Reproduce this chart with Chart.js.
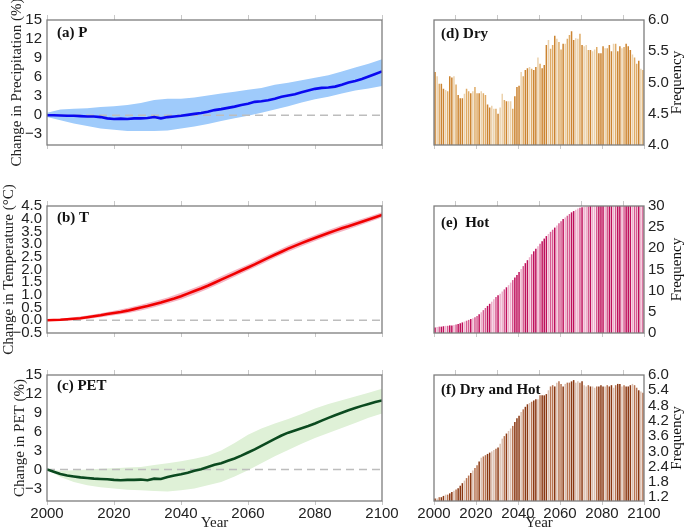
<!DOCTYPE html>
<html>
<head>
<meta charset="utf-8">
<script src="https://cdn.jsdelivr.net/npm/chart.js@4.4.1/dist/chart.umd.min.js"></script>
<style>
html, body { margin: 0; padding: 0; background: #fff; overflow: hidden; }
#wrap { position: relative; width: 685px; height: 529px; overflow: hidden; }
canvas { position: absolute; }
</style>
</head>
<body>
<div id="wrap">
  <canvas id="cP" width="400" height="175" style="left:0;top:0"></canvas>
  <canvas id="cT" width="400" height="195" style="left:0;top:165px"></canvas>
  <canvas id="cPET" width="400" height="189" style="left:0;top:345px"></canvas>
  <canvas id="cDry" width="275" height="175" style="left:410px;top:0"></canvas>
  <canvas id="cHot" width="275" height="195" style="left:410px;top:165px"></canvas>
  <canvas id="cDH" width="275" height="189" style="left:410px;top:345px"></canvas>
</div>
<script>
// years
const lineYears = [];
for (let y = 2000; y <= 2100; y += 2) lineYears.push(y);
const bandYears = [];
for (let y = 2000; y <= 2100; y += 4) bandYears.push(y);
const barYears = [];
for (let y = 2001; y <= 2100; y++) barYears.push(y);
const xTicks = [2000, 2020, 2040, 2060, 2080, 2100];

// (a) precipitation change, %
const pMean = [0, 0, -0.05, -0.1, -0.1, -0.15, -0.2, -0.2, -0.3, -0.5, -0.6,
  -0.55, -0.6, -0.5, -0.5, -0.45, -0.3, -0.5, -0.3, -0.2, -0.1,
  0.05, 0.2, 0.35, 0.55, 0.8, 0.95, 1.15, 1.35, 1.6, 1.8,
  2.1, 2.2, 2.35, 2.6, 2.9, 3.1, 3.3, 3.6, 3.9, 4.15,
  4.3, 4.35, 4.5, 4.8, 5.15, 5.4, 5.7, 6.1, 6.5, 6.9];
const pHigh = [0.4, 0.9, 1.0, 1.1, 1.3, 1.4, 1.6, 1.9, 2.4, 2.6, 2.6, 2.8, 3.1,
  3.4, 3.7, 4.0, 4.3, 4.8, 5.1, 5.5, 5.9, 6.3, 6.9, 7.5, 8.1, 8.8];
const pLow = [-0.3, -0.8, -1.3, -1.7, -2.1, -2.3, -2.5, -2.5, -2.5, -2.4, -2.1, -1.8, -1.4,
  -0.9, -0.5, -0.1, 0.4, 0.9, 1.4, 2.0, 2.5, 2.9, 3.4, 3.9, 4.2, 4.6];
const pTicks = [-3, 0, 3, 6, 9, 12, 15];

// (b) temperature change, degC
const tMean = [0, 0.01, 0.02, 0.04, 0.06, 0.08, 0.12, 0.16, 0.2, 0.25, 0.29,
  0.33, 0.38, 0.44, 0.5, 0.56, 0.63, 0.7, 0.78, 0.86, 0.95,
  1.05, 1.15, 1.25, 1.36, 1.48, 1.6, 1.72, 1.84, 1.96, 2.08,
  2.2, 2.33, 2.46, 2.58, 2.7, 2.82, 2.93, 3.04, 3.14, 3.24,
  3.34, 3.44, 3.53, 3.62, 3.7, 3.79, 3.88, 3.97, 4.06, 4.15];
const tHigh = [0.02, 0.06, 0.12, 0.19, 0.28, 0.38, 0.48, 0.61, 0.75, 0.9, 1.08, 1.28, 1.49,
  1.73, 1.97, 2.2, 2.45, 2.7, 2.94, 3.16, 3.36, 3.56, 3.74, 3.91, 4.08, 4.25];
const tLow = [-0.02, -0.02, 0.0, 0.05, 0.12, 0.2, 0.28, 0.39, 0.51, 0.66, 0.82, 1.02, 1.23,
  1.47, 1.71, 1.96, 2.21, 2.46, 2.7, 2.92, 3.12, 3.32, 3.5, 3.67, 3.86, 4.05];
const tTicks = [-0.5, 0, 0.5, 1, 1.5, 2, 2.5, 3, 3.5, 4, 4.5];

// (c) PET change, %
const petMean = [0, -0.35, -0.7, -0.95, -1.1, -1.25, -1.35, -1.45, -1.5, -1.55, -1.65,
  -1.7, -1.65, -1.65, -1.6, -1.7, -1.45, -1.5, -1.2, -0.95, -0.75,
  -0.5, -0.2, 0.05, 0.4, 0.75, 1.0, 1.4, 1.75, 2.2, 2.7,
  3.2, 3.75, 4.3, 4.85, 5.4, 5.85, 6.2, 6.55, 6.9, 7.3,
  7.75, 8.2, 8.6, 9.0, 9.4, 9.75, 10.1, 10.4, 10.7, 10.95];
const petHigh = [0, -0.2, -0.1, 0, 0.1, 0.2, 0.3, 0.4, 0.7, 1.0, 1.3, 1.7, 2.2,
  3.0, 4.2, 5.5, 6.5, 7.3, 8.0, 8.8, 9.7, 10.4, 11.0, 11.6, 12.2, 12.8];
const petLow = [0, -1.2, -2.0, -2.5, -2.8, -3.0, -3.2, -3.3, -3.4, -3.5, -3.3, -3.0, -2.5,
  -2.0, -1.1, -0.1, 1.0, 2.1, 3.1, 4.1, 5.0, 5.8, 6.6, 7.4, 8.2, 8.9];
const petTicks = [-3, 0, 3, 6, 9, 12, 15];

// (d) dry frequency
const dryFreq = [5.17, 5.1, 4.98, 4.98, 4.9, 4.88, 4.86, 5.1, 5.08, 5.1,
  4.97, 4.8, 4.75, 4.75, 4.82, 4.9, 4.86, 4.83, 4.86, 4.93,
  4.83, 4.83, 4.86, 4.83, 4.8, 4.65, 4.6, 4.63, 4.58, 4.58,
  4.5, 4.6, 4.82, 4.72, 4.7, 4.7, 4.7, 4.58, 4.78, 4.93,
  4.95, 5.17, 5.1, 5.2, 5.23, 5.25, 5.22, 5.2, 5.25, 5.4,
  5.3, 5.23, 5.28, 5.6, 5.68, 5.54, 5.6, 5.75, 5.7, 5.65,
  5.53, 5.62, 5.62, 5.7, 5.76, 5.82, 5.68, 5.71, 5.7, 5.78,
  5.6, 5.58, 5.6, 5.52, 5.52, 5.5, 5.53, 5.57, 5.47, 5.47,
  5.58, 5.55, 5.55, 5.6, 5.5, 5.62, 5.62, 5.5, 5.58, 5.55,
  5.57, 5.62, 5.58, 5.52, 5.45, 5.4, 5.3, 5.35, 5.22, 5.2];
const dryTicks = [4.0, 4.5, 5.0, 5.5, 6.0];

// (e) hot frequency
const hotFreq = [1.3, 1.4, 1.5, 1.5, 1.6, 1.7, 1.7, 1.8, 1.8, 1.9,
  2.0, 2.1, 2.3, 2.5, 2.7, 2.9, 3.1, 3.3, 3.5, 3.7,
  4.0, 4.4, 4.9, 5.4, 5.9, 6.4, 6.9, 7.4, 8.0, 8.5,
  8.9, 9.3, 9.8, 10.3, 10.8, 11.3, 11.9, 12.5, 13.1, 13.7,
  14.4, 15.1, 15.8, 16.5, 17.2, 17.9, 18.6, 19.3, 19.9, 20.5,
  21.1, 21.7, 22.3, 22.9, 23.4, 23.9, 24.4, 24.9, 25.4, 25.9,
  26.4, 26.9, 27.3, 27.7, 28.1, 28.5, 28.8, 29.1, 29.4, 29.6,
  29.7, 29.8, 29.9, 29.9, 30, 30, 30, 30, 30, 30,
  30, 30, 30, 30, 30, 30, 30, 30, 30, 30,
  30, 30, 30, 30, 30, 30, 30, 30, 30, 30];
const hotTicks = [0, 5, 10, 15, 20, 25, 30];

// (f) dry and hot frequency
const dryHotFreq = [1.15, 1.15, 1.2, 1.2, 1.25, 1.3, 1.3, 1.35, 1.4, 1.45,
  1.5, 1.55, 1.65, 1.75, 1.85, 1.95, 2.05, 2.15, 2.25, 2.35,
  2.45, 2.6, 2.75, 2.8, 2.85, 2.9, 2.95, 3.0, 3.05, 3.1,
  3.15, 3.3, 3.5, 3.6, 3.7, 3.8, 3.9, 4.0, 4.15, 4.3,
  4.4, 4.55, 4.65, 4.75, 4.85, 4.9, 4.95, 5.0, 5.05, 5.05,
  5.2, 5.2, 5.2, 5.25, 5.4, 5.55, 5.6, 5.55, 5.7, 5.75,
  5.65, 5.55, 5.65, 5.7, 5.7, 5.75, 5.8, 5.7, 5.75, 5.7,
  5.75, 5.6, 5.55, 5.6, 5.55, 5.55, 5.5, 5.55, 5.55, 5.6,
  5.55, 5.55, 5.6, 5.55, 5.6, 5.5, 5.6, 5.65, 5.65, 5.55,
  5.6, 5.55, 5.55, 5.6, 5.65, 5.6, 5.5, 5.4, 5.35, 5.3];
const dryHotTicks = [1.2, 1.8, 2.4, 3.0, 3.6, 4.2, 4.8, 5.4, 6.0];

const SANS = '"Liberation Sans", Arial, sans-serif';
const SERIF = '"Liberation Serif", "Times New Roman", serif';
Chart.defaults.font.family = SANS;
Chart.defaults.color = '#222';

const minus = s => String(s).replace('-', '\u2212');

// box, zero line, panel label, right title
const panelPlugin = {
  id: 'panel',
  beforeDatasetDraw(chart, args, opts) {
    if (opts.zero && args.index === 0) {
      const a = chart.chartArea, ctx = chart.ctx;
      const y0 = chart.scales.y.getPixelForValue(0);
      ctx.save();
      ctx.strokeStyle = '#bdbdbd';
      ctx.lineWidth = 1.5;
      ctx.setLineDash([8, 5]);
      ctx.beginPath();
      ctx.moveTo(a.left, y0);
      ctx.lineTo(a.right, y0);
      ctx.stroke();
      ctx.restore();
    }
  },
  afterDraw(chart, args, opts) {
    const a = chart.chartArea, ctx = chart.ctx;
    ctx.save();
    ctx.strokeStyle = '#7d7d7d';
    ctx.lineWidth = 1.3;
    ctx.strokeRect(a.left, a.top, a.right - a.left, a.bottom - a.top);
    ctx.fillStyle = '#111';
    ctx.font = 'bold 15px ' + SERIF;
    ctx.textBaseline = 'alphabetic';
    ctx.textAlign = 'left';
    ctx.fillText(opts.label, a.left + opts.lx, a.top + opts.ly);
    if (opts.rightTitle) {
      ctx.font = '15px ' + SERIF;
      ctx.textAlign = 'center';
      ctx.textBaseline = 'middle';
      ctx.translate(chart.width - 8, (a.top + a.bottom) / 2);
      ctx.rotate(-Math.PI / 2);
      ctx.fillText(opts.rightTitle, 0, 0);
    }
    ctx.restore();
  }
};

function xScales(showLabels, h) {
  return {
    x: {
      type: 'linear', min: 2000, max: 2100, offset: false,
      afterBuildTicks: s => { s.ticks = xTicks.map(v => ({ value: v })); },
      afterFit: s => { s.height = h; },
      grid: { drawOnChartArea: false, tickLength: 4, color: '#c8c8c8', offset: false },
      border: { display: false },
      ticks: { display: showLabels, padding: 0, maxRotation: 0, autoSkip: false,
        color: '#222', font: { family: SANS, size: 15 }, callback: v => String(v) },
      title: { display: showLabels, text: 'Year', color: '#222',
        font: { family: SERIF, size: 15 }, padding: { top: 0, bottom: 2 } }
    },
    x2: {
      type: 'linear', position: 'top', min: 2000, max: 2100, offset: false,
      afterBuildTicks: s => { s.ticks = xTicks.map(v => ({ value: v })); },
      afterFit: s => { s.height = 5; },
      grid: { drawOnChartArea: false, tickLength: 5, color: '#c8c8c8' },
      border: { display: false },
      ticks: { display: false }
    }
  };
}

function linePanel(id, o) {
  new Chart(document.getElementById(id), {
    type: 'line',
    data: {
      datasets: [
        { data: o.mean.map((v, i) => ({ x: lineYears[i], y: v })),
          borderColor: o.lineColor, borderWidth: 2.6, pointRadius: 0, fill: false },
        { data: o.low.map((v, i) => ({ x: bandYears[i], y: v })),
          borderColor: 'rgba(0,0,0,0)', backgroundColor: o.bandColor, pointRadius: 0, fill: '+1' },
        { data: o.high.map((v, i) => ({ x: bandYears[i], y: v })),
          borderColor: 'rgba(0,0,0,0)', pointRadius: 0, fill: false }
      ]
    },
    plugins: [panelPlugin],
    options: {
      responsive: false, animation: false, devicePixelRatio: 1,
      layout: { padding: { left: 0, right: 18, top: o.padTop, bottom: 0 } },
      plugins: {
        legend: { display: false }, tooltip: { enabled: false },
        panel: { label: o.label, lx: 10, ly: o.ly, zero: true }
      },
      scales: Object.assign(xScales(o.showX, o.xh), {
        y: {
          min: o.min, max: o.max,
          afterBuildTicks: s => { s.ticks = o.ticks.map(v => ({ value: v })); },
          afterFit: s => { s.width = 47; },
          grid: { display: false, drawTicks: false },
          border: { display: false },
          ticks: { autoSkip: false, padding: 5, color: '#222', font: { family: SANS, size: 15 },
            callback: v => minus(o.fmt(v)) },
          title: { display: true, text: o.title, color: '#222',
            font: { family: SERIF, size: 15 }, padding: { top: o.titlePad, bottom: 0 } }
        }
      })
    }
  });
}

function shade(palette, i) {
  const k = (i * 7 + (i >> 2) * 3) % 10;
  return k < 4 ? palette[0] : (k < 7 ? palette[1] : palette[2]);
}

function barPanel(id, o) {
  new Chart(document.getElementById(id), {
    type: 'bar',
    data: {
      datasets: [{
        data: o.values.map((v, i) => ({ x: barYears[i] - 0.5, y: v })),
        backgroundColor: o.values.map((v, i) => shade(o.palette, i)),
        borderWidth: 0, categoryPercentage: 1, barPercentage: 0.72
      }]
    },
    plugins: [panelPlugin],
    options: {
      responsive: false, animation: false, devicePixelRatio: 1,
      layout: { padding: { left: 24, right: 0, top: o.padTop, bottom: 0 } },
      plugins: {
        legend: { display: false }, tooltip: { enabled: false },
        panel: { label: o.label, lx: 7, ly: o.ly, rightTitle: 'Frequency' }
      },
      scales: Object.assign(xScales(o.showX, o.xh), {
        y: {
          position: 'right', min: o.min, max: o.max,
          afterBuildTicks: s => { s.ticks = o.ticks.map(v => ({ value: v })); },
          afterFit: s => { s.width = 41; },
          grid: { display: false, drawTicks: false },
          border: { display: false },
          ticks: { autoSkip: false, padding: 4, color: '#222', font: { family: SANS, size: 15 },
            callback: v => o.fmt(v) }
        }
      })
    }
  });
}

linePanel('cP', { mean: pMean, low: pLow, high: pHigh, ticks: pTicks, min: -4.7, max: 15,
  lineColor: '#0a0af0', bandColor: '#9fcbfb', label: '(a) P', ly: 17,
  title: 'Change in Precipitation (%)', titlePad: 8, padTop: 15, xh: 30, showX: false,
  fmt: v => v.toFixed(0) });
linePanel('cT', { mean: tMean, low: tLow, high: tHigh, ticks: tTicks, min: -0.5, max: 4.5,
  lineColor: '#f00000', bandColor: '#f5b5c3', label: '(b) T', ly: 16,
  title: 'Change in Temperature (\u00B0C)', titlePad: 0, padTop: 36, xh: 27, showX: false,
  fmt: v => v.toFixed(1) });
linePanel('cPET', { mean: petMean, low: petLow, high: petHigh, ticks: petTicks, min: -5, max: 15,
  lineColor: '#0b4a1f', bandColor: '#dff1d7', label: '(c) PET', ly: 15,
  title: 'Change in PET (%)', titlePad: 11, padTop: 25, xh: 33, showX: true,
  fmt: v => v.toFixed(0) });

barPanel('cDry', { values: dryFreq, ticks: dryTicks, min: 4, max: 6,
  palette: ['#cc8431', '#dfab67', '#ecd2ad'], label: '(d) Dry', ly: 18,
  padTop: 15, xh: 30, showX: false, fmt: v => v.toFixed(1) });
barPanel('cHot', { values: hotFreq, ticks: hotTicks, min: 0, max: 30,
  palette: ['#bf0f5b', '#d65b91', '#eeb0cb'], label: '(e)  Hot', ly: 21,
  padTop: 36, xh: 27, showX: false, fmt: v => v.toFixed(0) });
barPanel('cDH', { values: dryHotFreq, ticks: dryHotTicks, min: 1.05, max: 6,
  palette: ['#8a3812', '#b77452', '#dcc0b1'], label: '(f) Dry and Hot', ly: 19,
  padTop: 25, xh: 33, showX: true, fmt: v => v.toFixed(1) });
</script>
</body>
</html>
